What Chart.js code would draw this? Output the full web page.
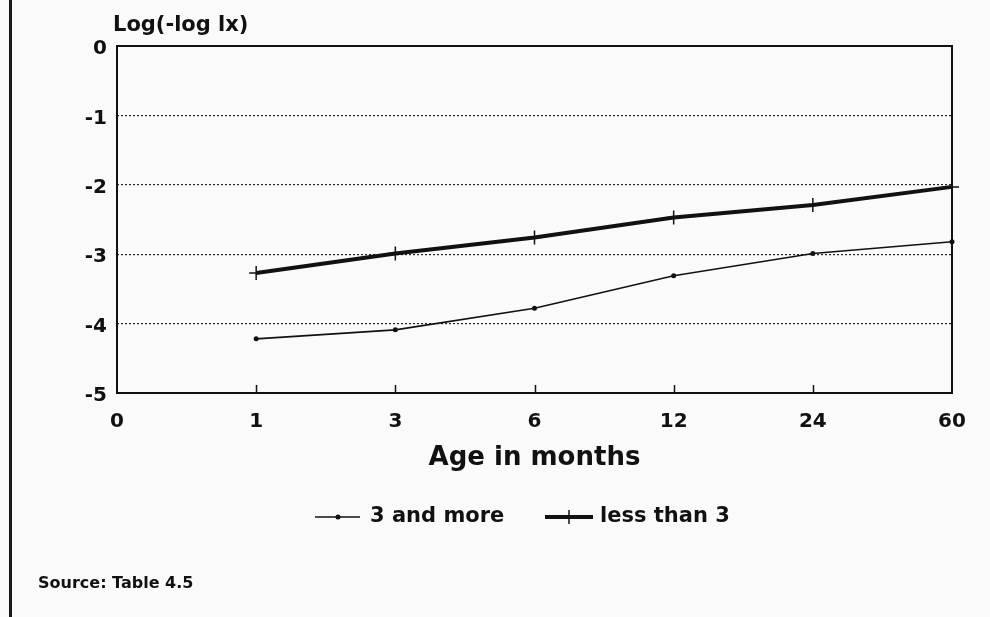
<!DOCTYPE html>
<html><head><meta charset="utf-8">
<script src="https://cdn.jsdelivr.net/npm/chart.js@4"></script>
<style>html,body{margin:0;padding:0;background:#fafafa;overflow:hidden}</style>
</head><body>
<canvas id="c" width="990" height="617" style="width:990px;height:617px;display:block"></canvas>
<script>
const xLabels = ['0', '1', '3', '6', '12', '24', '60'];
const yTickValues = [0, -1, -2, -3, -4, -5];
const seriesNames = ['3 and more', 'less than 3'];
const threeAndMore = [null, -4.22, -4.09, -3.78, -3.31, -2.99, -2.82];
const lessThanThree = [null, -3.27, -2.99, -2.76, -2.47, -2.29, -2.03];
const yAxisTitle = 'Log(-log lx)';
const xAxisTitle = 'Age in months';
const sourceNote = 'Source: Table 4.5';

const FONT = "'DejaVu Sans', 'Liberation Sans', sans-serif";
const INK = '#111';

const deco = {
  id: 'deco',
  beforeDraw(chart) {
    const ctx = chart.ctx;
    ctx.save();
    ctx.fillStyle = '#fafafa';
    ctx.fillRect(0, 0, chart.width, chart.height);
    // scanned page edge on the left
    ctx.strokeStyle = '#1a1a1a';
    ctx.lineWidth = 3;
    ctx.beginPath(); ctx.moveTo(10.5, 0); ctx.lineTo(10.5, chart.height); ctx.stroke();
    ctx.restore();
  },
  afterDraw(chart) {
    const { ctx, chartArea: a, scales: { x } } = chart;
    ctx.save();
    ctx.strokeStyle = INK;
    ctx.lineWidth = 2;
    ctx.strokeRect(a.left, a.top, a.right - a.left, a.bottom - a.top);
    // inward tick marks on the bottom axis
    ctx.lineWidth = 1.5;
    for (let i = 1; i < xLabels.length - 1; i++) {
      const px = Math.round(x.getPixelForTick(i)) + 0.5;
      ctx.beginPath(); ctx.moveTo(px, a.bottom); ctx.lineTo(px, a.bottom - 8); ctx.stroke();
    }
    ctx.fillStyle = INK;
    ctx.textBaseline = 'middle';
    ctx.textAlign = 'left';
    // y-axis title
    ctx.font = `bold 21px ${FONT}`;
    ctx.fillText(yAxisTitle, 113, 26);
    // legend
    const ly = 517;
    ctx.font = `bold 21px ${FONT}`;
    ctx.lineWidth = 1.5;
    ctx.beginPath(); ctx.moveTo(315, ly); ctx.lineTo(360, ly); ctx.stroke();
    ctx.beginPath(); ctx.arc(338, ly, 2.5, 0, Math.PI * 2); ctx.fill();
    ctx.fillText(seriesNames[0], 370, ly);
    ctx.lineWidth = 4;
    ctx.beginPath(); ctx.moveTo(545, ly); ctx.lineTo(593, ly); ctx.stroke();
    ctx.lineWidth = 1.5;
    ctx.beginPath(); ctx.moveTo(569, ly - 7); ctx.lineTo(569, ly + 7); ctx.stroke();
    ctx.fillText(seriesNames[1], 600, ly);
    // source note
    ctx.font = `bold 16px ${FONT}`;
    ctx.fillText(sourceNote, 38, 584);
    ctx.restore();
  }
};

new Chart(document.getElementById('c'), {
  type: 'line',
  data: {
    labels: xLabels,
    datasets: [
      {
        label: seriesNames[0],
        data: threeAndMore,
        borderColor: INK,
        backgroundColor: INK,
        borderWidth: 1.6,
        pointStyle: 'circle',
        pointRadius: 2.5,
        pointBorderWidth: 0,
        tension: 0,
        spanGaps: false
      },
      {
        label: seriesNames[1],
        data: lessThanThree,
        borderColor: INK,
        backgroundColor: INK,
        borderWidth: 4,
        pointStyle: 'cross',
        pointRadius: 7,
        pointBorderWidth: 1.5,
        tension: 0
      }
    ]
  },
  options: {
    responsive: false,
    devicePixelRatio: 1,
    animation: false,
    layout: { padding: { left: 0, right: 38, top: 46, bottom: 143 } },
    plugins: { legend: { display: false }, tooltip: { enabled: false }, title: { display: false } },
    scales: {
      x: {
        type: 'category',
        offset: false,
        grid: { display: false, drawTicks: false, drawOnChartArea: false },
        border: { display: false },
        ticks: { color: INK, font: { family: FONT, weight: 'bold', size: 20 }, padding: 17, maxRotation: 0, autoSkip: false },
        title: { display: true, text: xAxisTitle, color: INK, font: { family: FONT, weight: 'bold', size: 26 }, padding: 0 },
        afterFit(s) { s.height = 81; }
      },
      y: {
        min: -5,
        max: 0,
        afterBuildTicks(s) { s.ticks = yTickValues.map(v => ({ value: v })); },
        grid: {
          drawTicks: false,
          lineWidth: 1.2,
          color: c => (c.tick && (c.tick.value === 0 || c.tick.value === -5)) ? 'rgba(0,0,0,0)' : '#222'
        },
        border: { display: false, dash: [2, 2] },
        ticks: { color: INK, font: { family: FONT, weight: 'bold', size: 20 }, padding: 10, labelOffset: 3, callback: v => String(v) },
        afterFit(s) { s.width = 117; }
      }
    }
  },
  plugins: [deco]
});
</script>
</body></html>
